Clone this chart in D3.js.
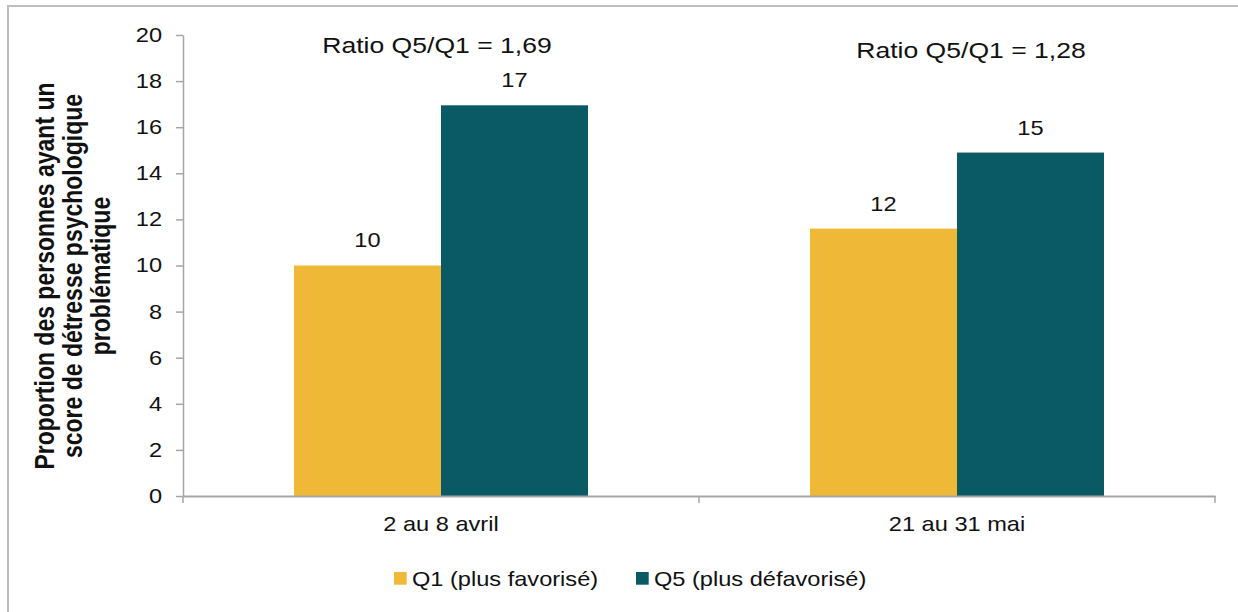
<!DOCTYPE html>
<html>
<head>
<meta charset="utf-8">
<script src="https://cdn.jsdelivr.net/npm/d3@7/dist/d3.min.js"></script>
<style>
  html, body { margin: 0; padding: 0; background: #fff; }
  svg { display: block; font-family: "Liberation Sans", Arial, Helvetica, sans-serif; }
  .sx-mid { transform-box: fill-box; transform-origin: center; transform: scaleX(1.18); }
  .sx-end { transform-box: fill-box; transform-origin: right center; transform: scaleX(1.18); }
  .sx-start { transform-box: fill-box; transform-origin: left center; transform: scaleX(1.18); }
</style>
</head>
<body>
<script>
// ---- data ----
const categories = ["2 au 8 avril", "21 au 31 mai"];
const seriesNames = ["Q1 (plus favorisé)", "Q5 (plus défavorisé)"];
const q1Values = [10.0, 11.6];
const q5Values = [16.95, 14.9];
const q1Labels = ["10", "12"];
const q5Labels = ["17", "15"];
const ratioLabels = ["Ratio Q5/Q1 = 1,69", "Ratio Q5/Q1 = 1,28"];
const yTicks = [0, 2, 4, 6, 8, 10, 12, 14, 16, 18, 20];
const yTitleLines = ["Proportion des personnes ayant un", "score de détresse psychologique", "problématique"];
const colors = ["#EFB836", "#0A5A66"];

// ---- layout ----
const W = 1238, H = 612;
const plot = { left: 183, right: 1215, top: 35, bottom: 496 };

const svg = d3.select("body").append("svg").attr("width", W).attr("height", H);

// outer frame
svg.append("rect").attr("x", 8).attr("y", 6).attr("width", 1400).attr("height", 800)
  .attr("fill", "none").attr("stroke", "#BEBEBE").attr("stroke-width", 2);

const x0 = d3.scaleBand().domain(categories).range([plot.left, plot.right]).padding(0);
const x1 = d3.scaleBand().domain(seriesNames).range([0, x0.bandwidth()]).paddingInner(0).paddingOuter(0.755);
const y = d3.scaleLinear().domain([0, 20]).range([plot.bottom, plot.top]);

const axisColor = "#A6A6A6";

// y axis
const yAxis = svg.append("g").attr("transform", `translate(${plot.left},0)`)
  .call(d3.axisLeft(y).tickValues(yTicks).tickSize(7).tickSizeOuter(0).tickPadding(14).tickFormat(d3.format("d")));
yAxis.select(".domain").attr("stroke", axisColor).attr("stroke-width", 1.5);
yAxis.selectAll(".tick line").attr("stroke", axisColor).attr("stroke-width", 1.5);
yAxis.selectAll(".tick text").attr("font-size", 20).attr("fill", "#111").attr("font-family", null).attr("class", "sx-end");

// bars
const rows = categories.map((c, i) => ({ cat: c, vals: [q1Values[i], q5Values[i]], labs: [q1Labels[i], q5Labels[i]] }));
const groups = svg.append("g").selectAll("g").data(rows).join("g")
  .attr("transform", d => `translate(${x0(d.cat)},0)`);
groups.selectAll("rect").data(d => d.vals.map((v, j) => ({ s: seriesNames[j], v, j }))).join("rect")
  .attr("x", d => x1(d.s)).attr("width", x1.bandwidth())
  .attr("y", d => y(d.v)).attr("height", d => y(0) - y(d.v))
  .attr("fill", d => colors[d.j]);
groups.selectAll("text").data(d => d.vals.map((v, j) => ({ s: seriesNames[j], v, l: d.labs[j] }))).join("text")
  .attr("x", d => x1(d.s) + x1.bandwidth() / 2).attr("y", d => y(d.v) - 18)
  .attr("text-anchor", "middle").attr("font-size", 20).attr("fill", "#111")
  .attr("class", "sx-mid").text(d => d.l);

// x axis
const xAxis = svg.append("g").attr("transform", `translate(0,${plot.bottom})`)
  .call(d3.axisBottom(x0).tickSize(0).tickSizeOuter(0).tickPadding(21));
xAxis.select(".domain").attr("stroke", axisColor).attr("stroke-width", 2);
xAxis.selectAll(".tick text").attr("font-size", 20).attr("fill", "#111").attr("font-family", null).attr("class", "sx-mid");
const bounds = categories.map(c => x0(c)).concat([x0.range()[1]]);
xAxis.selectAll(".bnd").data(bounds).join("line").attr("class", "bnd")
  .attr("x1", d => d).attr("x2", d => d).attr("y1", 0).attr("y2", 7)
  .attr("stroke", axisColor).attr("stroke-width", 1.5);

// ratio annotations
const ratioOffsets = [[-4, 53], [14, 58]];
svg.append("g").selectAll("text").data(ratioLabels).join("text")
  .attr("x", (d, i) => x0(categories[i]) + x0.bandwidth() / 2 + ratioOffsets[i][0])
  .attr("y", (d, i) => ratioOffsets[i][1])
  .attr("text-anchor", "middle").attr("font-size", 22.5).attr("fill", "#111")
  .attr("class", "sx-mid").text(d => d);

// y title
const tg = svg.append("g").attr("transform", "translate(82,276) scale(1.2,1) rotate(-90)");
tg.selectAll("text").data(yTitleLines).join("text")
  .attr("x", 0).attr("y", (d, i) => (i - 1) * 23)
  .attr("text-anchor", "middle").attr("font-size", 23).attr("font-weight", "bold").attr("fill", "#111")
  .text(d => d);

// legend
const legendX = [394, 636];
const lg = svg.append("g").selectAll("g").data(seriesNames).join("g")
  .attr("transform", (d, i) => `translate(${legendX[i]},572)`);
lg.append("rect").attr("width", 12.7).attr("height", 12.7).attr("fill", (d, i) => colors[i]);
lg.append("text").attr("x", 18).attr("y", 14).attr("font-size", 20).attr("fill", "#111")
  .attr("class", "sx-start").text(d => d);
</script>
</body>
</html>
